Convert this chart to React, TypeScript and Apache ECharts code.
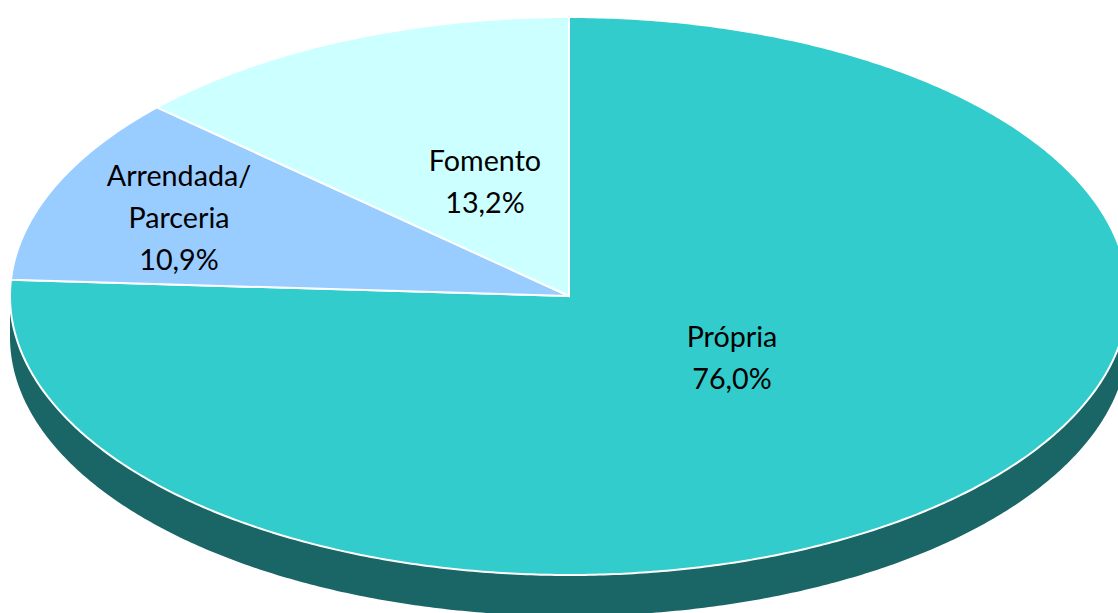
import React, { useEffect, useRef } from "react";
import * as echarts from "echarts";

const names = ["Própria", "Arrendada/\nParceria", "Fomento"];
const shares = [76.0, 10.9, 13.2];
const colors = ["#33CCCC", "#99CCFF", "#CCFFFF"];
const sideColor = "#1A6666";

const WIDTH = 1118;
const HEIGHT = 613;
const CX = 569;
const CY = 296;
const RX = 559;
const RY = 279;
const DEPTH = 41;
const LABEL_CENTRES = [
  [732, 357],
  [179, 217],
  [485, 181],
];

const total = shares.reduce((a, b) => a + b, 0);

function rimPoint(deg: number, dy = 0): [number, number] {
  const t = (deg * Math.PI) / 180;
  return [CX + RX * Math.sin(t), CY - RY * Math.cos(t) + dy];
}

function arc(from: number, to: number, dy = 0): [number, number][] {
  const steps = Math.max(2, Math.ceil((to - from) * 2));
  const pts: [number, number][] = [];
  for (let i = 0; i <= steps; i++) pts.push(rimPoint(from + ((to - from) * i) / steps, dy));
  return pts;
}

function renderSlice(params: any, api: any) {
  const i = params.dataIndex;
  const before = shares.slice(0, i).reduce((a, b) => a + b, 0);
  const start = (before / total) * 360;
  const end = start + (api.value(0) / total) * 360;
  const children: any[] = [];
  if (i === 0) {
    children.push({
      type: "polygon",
      shape: { points: [...arc(90, 270), ...arc(90, 270, DEPTH).reverse()] },
      style: { fill: sideColor, stroke: null },
    });
  }
  children.push({
    type: "polygon",
    shape: { points: [[CX, CY], ...arc(start, end)] },
    style: { fill: colors[i], stroke: "#FFFFFF", lineWidth: 2, lineJoin: "miter" },
  });
  const label = `${names[i]}\n${api.value(0).toFixed(1).replace(".", ",")}%`;
  children.push({
    type: "text",
    x: LABEL_CENTRES[i][0],
    y: LABEL_CENTRES[i][1],
    z2: 10,
    style: {
      text: label,
      fontFamily: "Lato, 'Open Sans', sans-serif",
      fontSize: 28.7,
      lineHeight: 42,
      fill: "#000000",
      align: "center",
      verticalAlign: "middle",
    },
  });
  return { type: "group", children };
}

export default function App() {
  const ref = useRef<HTMLDivElement>(null);
  useEffect(() => {
    document.body.style.margin = "0";
    const chart = echarts.init(ref.current!, undefined, { renderer: "svg" });
    chart.setOption({
      animation: false,
      backgroundColor: "#FFFFFF",
      series: [
        {
          type: "custom",
          coordinateSystem: "none",
          renderItem: renderSlice,
          data: shares.map((v, i) => ({ name: names[i], value: [v] })),
          silent: true,
        },
      ],
    });
    return () => chart.dispose();
  }, []);
  return (
    <div
      ref={ref}
      style={{ position: "absolute", left: 0, top: 0, width: WIDTH, height: HEIGHT, overflow: "hidden" }}
    />
  );
}
